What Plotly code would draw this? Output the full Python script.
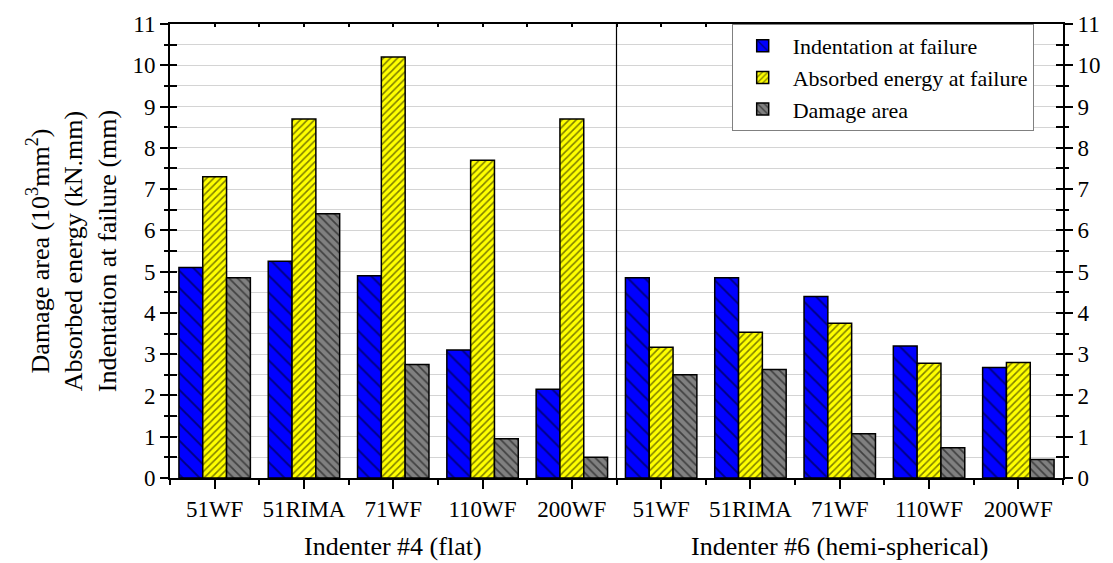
import plotly.graph_objects as go

# Specimen labels for both indenter groups
specimens = ["51WF", "51RIMA", "71WF", "110WF", "200WF",
             "51WF", "51RIMA", "71WF", "110WF", "200WF"]
groups = ["Indenter #4 (flat)", "Indenter #6 (hemi-spherical)"]

# Measured values per specimen
indentation = [5.1, 5.25, 4.9, 3.1, 2.15, 4.85, 4.85, 4.4, 3.2, 2.68]
energy = [7.3, 8.7, 10.2, 7.7, 8.7, 3.17, 3.53, 3.75, 2.78, 2.8]
damage = [4.85, 6.4, 2.75, 0.95, 0.5, 2.5, 2.63, 1.07, 0.73, 0.45]

xpos = list(range(len(specimens)))
FONT = "'Liberation Serif', 'Times New Roman', 'DejaVu Serif', serif"

fig = go.Figure()

series = [
    ("Indentation at failure", indentation, "#0000ff", "\\", 12, 0.16),
    ("Absorbed energy at failure", energy, "#ffff00", "/", 5, 0.32),
    ("Damage area", damage, "#808080", "\\", 6, 0.28),
]
for name, vals, color, shape, size, sol in series:
    fig.add_trace(go.Bar(
        x=xpos, y=vals, name=name,
        marker=dict(
            color=color,
            line=dict(color="black", width=1.5),
            pattern=dict(shape=shape, size=size, solidity=sol,
                         fgcolor="black", bgcolor=color, fillmode="overlay"),
        ),
    ))

# invisible traces anchoring the extra tick axes
for xa, ya in [("x2", "y2"), ("x", "y3"), ("x", "y4")]:
    fig.add_trace(go.Scatter(x=[0], y=[0], xaxis=xa, yaxis=ya,
                             mode="markers", marker=dict(opacity=0),
                             showlegend=False, hoverinfo="skip"))

xr = [-0.5, len(specimens) - 0.5]
yr = [0, 11]

inner_ticks = dict(
    range=yr, overlaying="y", anchor="x", tickmode="linear", tick0=0,
    dtick=0.5, ticks="inside", ticklen=7, tickwidth=2, tickcolor="black",
    showticklabels=False, showgrid=False, zeroline=False, showline=False,
)

fig.update_layout(
    width=1113, height=563,
    margin=dict(l=170, r=43, t=16, b=85),
    paper_bgcolor="white", plot_bgcolor="white",
    font=dict(family=FONT, size=23, color="black"),
    barmode="group", bargap=0.2, bargroupgap=0,
    xaxis=dict(
        range=xr, tickmode="array", tickvals=xpos, ticktext=specimens,
        tickfont=dict(family=FONT, size=23),
        showline=True, linecolor="black", linewidth=2,
        ticks="outside", ticklen=9, tickwidth=2, tickcolor="black",
        minor=dict(tick0=-0.5, dtick=1, ticks="outside", ticklen=5,
                   tickwidth=2, tickcolor="black"),
        showgrid=False, zeroline=False,
    ),
    xaxis2=dict(
        range=xr, overlaying="x", side="top", anchor="y",
        showticklabels=False, showline=True, linecolor="black", linewidth=2,
        ticks="inside", ticklen=3, tickwidth=1.5, tickcolor="black",
        tickmode="linear", tick0=-0.5, dtick=0.5,
        showgrid=False, zeroline=False,
    ),
    yaxis=dict(
        range=yr, tickmode="linear", tick0=0, dtick=1,
        tickfont=dict(family=FONT, size=23),
        showline=True, linecolor="black", linewidth=2,
        ticks="outside", ticklen=8, tickwidth=2, tickcolor="black",
        showgrid=True, gridcolor="#d4d4d4", gridwidth=1,
        minor=dict(dtick=0.5, ticks="outside", ticklen=4, tickwidth=2,
                   tickcolor="black", showgrid=True, gridcolor="#d4d4d4"),
        zeroline=False,
        title=dict(
            text="Damage area (10<sup>3</sup>mm<sup>2</sup>)<br>"
                 "Absorbed energy (kN.mm)<br>Indentation at failure (mm)",
            font=dict(family=FONT, size=26), standoff=8,
        ),
    ),
    yaxis2=dict(
        range=yr, overlaying="y", side="right", anchor="x",
        tickmode="linear", tick0=0, dtick=1,
        tickfont=dict(family=FONT, size=23),
        showline=True, linecolor="black", linewidth=2,
        ticks="outside", ticklen=8, tickwidth=2, tickcolor="black",
        minor=dict(dtick=0.5, ticks="outside", ticklen=4, tickwidth=2,
                   tickcolor="black"),
        showgrid=False, zeroline=False,
    ),
    yaxis3=dict(side="left", **inner_ticks),
    yaxis4=dict(side="right", **inner_ticks),
    legend=dict(
        x=0.629, y=1.0, xanchor="left", yanchor="top",
        bgcolor="white", bordercolor="#808080", borderwidth=1,
        font=dict(family=FONT, size=22), tracegroupgap=0, itemwidth=50,
    ),
    showlegend=True,
)

# divider between the two indenter groups
fig.add_shape(type="line", xref="x", yref="y", x0=4.5, x1=4.5, y0=0, y1=11,
              line=dict(color="black", width=1.2))

# group titles under the specimen labels
for i, g in enumerate(groups):
    fig.add_annotation(text=g, xref="x", yref="paper", x=2 + 5 * i, y=0,
                       yshift=-68, showarrow=False, yanchor="middle",
                       font=dict(size=26, family=FONT))

fig.write_html("out.html")
